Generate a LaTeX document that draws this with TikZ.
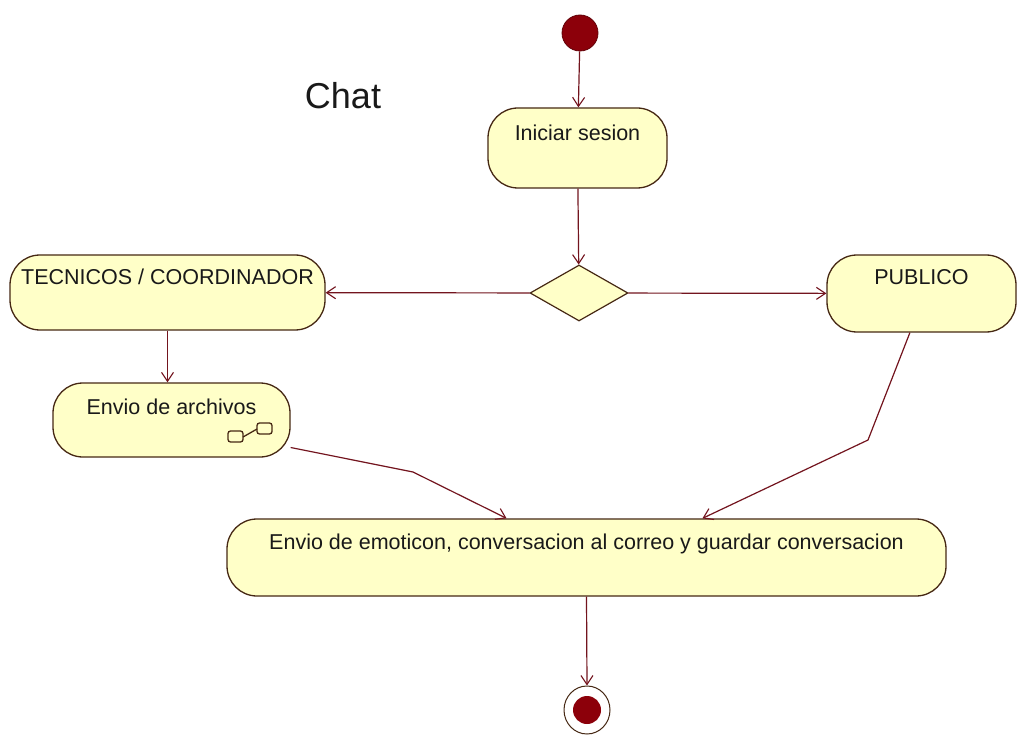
\documentclass[tikz,border=0pt]{standalone}
\usepackage{fontspec}
\setmainfont{Liberation Sans}
\usetikzlibrary{shapes.geometric,arrows.meta,calc}
\definecolor{boxfill}{RGB}{255,255,200}
\definecolor{boxline}{RGB}{70,40,20}
\definecolor{conn}{RGB}{115,20,30}
\definecolor{dotred}{RGB}{140,0,10}
\begin{document}
\begin{tikzpicture}[x=1pt,y=-1pt,
  act/.style={draw=boxline, fill=boxfill, line width=1.3pt, rounded corners=30pt,
    inner sep=0pt, font=\fontsize{21.5}{25}\selectfont, text=black!90},
  flow/.style={draw=conn, line width=1.2pt,
    -{Straight Barb[length=9pt,width=12pt,line width=1.1pt]}},
  icon/.style={draw=boxline, line width=1.3pt},
]
\useasboundingbox[fill=white] (0,0) rectangle (1017,735);

\node[font=\fontsize{36}{40}\selectfont, text=black!90] (title) at (343,96) {Chat};

\node[circle, fill=dotred, draw=dotred!70!black, line width=0.8pt, minimum size=36pt, inner sep=0pt] (start) at (580,33) {};

\node[act, minimum width=179pt, text height=32.7pt, text depth=47.3pt] (ini) at (577.5,148) {Iniciar sesion};
\node[diamond, draw=boxline, fill=boxfill, line width=1.2pt, minimum width=98pt, minimum height=56pt, inner sep=0pt] (dia) at (579,293) {};
\node[act, minimum width=315pt, text height=29.7pt, text depth=45.3pt] (tec) at (167.5,292.5) {TECNICOS / COORDINADOR};
\node[act, minimum width=189pt, text height=29.7pt, text depth=47.3pt] (pub) at (921.5,293.5) {PUBLICO};
\node[act, minimum width=237pt, text height=31.7pt, text depth=42.3pt] (arch) at (171.5,420) {Envio de archivos};
\node[act, minimum width=719pt, text height=30.7pt, text depth=46.3pt] (big) at (586.5,557.5) {Envio de emoticon, conversacion al correo y guardar conversacion};

\node[ellipse, draw=boxline, fill=white, line width=1pt, minimum width=46pt, minimum height=48pt, inner sep=0pt] (end) at (587,710) {};
\node[circle, fill=dotred, minimum size=28pt, inner sep=0pt] (endin) at (end.center) {};

% sub-activity icon
\draw[icon, rounded corners=2.5pt] (228,431) rectangle (243,442);
\draw[icon, rounded corners=2.5pt] (257,423) rectangle (272,434);
\draw[icon] (243,437) -- (257,429);

% connectors
\coordinate (b1) at (413,472);
\coordinate (b2) at (868,440);
\draw[flow] (start) -- (ini);
\draw[flow] (ini) -- (dia);
\draw[flow] (dia) -- (tec);
\draw[flow] (dia) -- (pub);
\draw[flow] (tec.south) -- (tec.south |- arch.north);
\draw[flow] (arch.-13) -- (b1) -- ($(big.north west)!0.389!(big.north east)$);
\draw[flow] ($(pub.south west)!0.439!(pub.south east)$) -- (b2) -- ($(big.north west)!0.661!(big.north east)$);
\draw[flow] (big.south) -- (end.north);
\end{tikzpicture}
\end{document}
